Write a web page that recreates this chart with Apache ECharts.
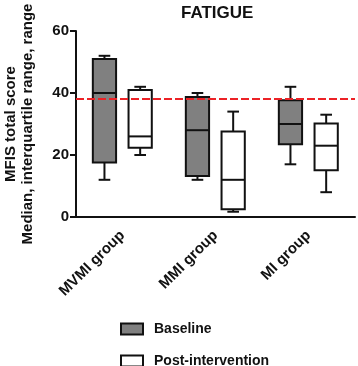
<!DOCTYPE html>
<html>
<head>
<meta charset="utf-8">
<script src="https://cdn.jsdelivr.net/npm/echarts@6/dist/echarts.min.js"></script>
<style>
  html, body { margin: 0; padding: 0; background: #fff; }
  #chart { width: 358px; height: 366px; }
</style>
</head>
<body>
<div id="chart"></div>
<script>
var groups = ['MVMI group', 'MMI group', 'MI group'];
// [min, Q1, median, Q3, max]
var baseline = [
    [12, 17.6, 40, 51, 52],
    [12, 13.2, 28, 38.7, 40],
    [17, 23.5, 30, 37.7, 42]
];
var postIntervention = [
    [20, 22.3, 26, 41, 42],
    [1.7, 2.5, 12, 27.6, 34],
    [8, 15.1, 23, 30.2, 33]
];
var cutOff = 38;
var yTicks = [0, 20, 40, 60];

var font = 'Liberation Sans, Arial, sans-serif';

function toRows(arr) {
    return arr.map(function (d, i) {
        return [i].concat(d);
    });
}

// box + whiskers, offset is a fraction of the band width
function boxRenderer(offset) {
    return function (params, api) {
        var c = api.value(0);
        var band = api.size([1, 0])[0];
        var half = band * 0.125;
        var cap = half * 0.5;
        var p = [1, 2, 3, 4, 5].map(function (i) {
            return api.coord([c, api.value(i)]);
        });
        var cx = p[0][0] + offset * band;
        var st = api.style();
        var line = { stroke: '#111', lineWidth: 2 };
        return {
            type: 'group',
            children: [
                { type: 'line', shape: { x1: cx, y1: p[0][1], x2: cx, y2: p[1][1] }, style: line },
                { type: 'line', shape: { x1: cx, y1: p[3][1], x2: cx, y2: p[4][1] }, style: line },
                { type: 'line', shape: { x1: cx - cap, y1: p[0][1], x2: cx + cap, y2: p[0][1] }, style: line },
                { type: 'line', shape: { x1: cx - cap, y1: p[4][1], x2: cx + cap, y2: p[4][1] }, style: line },
                {
                    type: 'rect',
                    shape: { x: cx - half, y: p[3][1], width: half * 2, height: p[1][1] - p[3][1] },
                    style: { fill: st.fill, stroke: '#111', lineWidth: 2 }
                },
                { type: 'line', shape: { x1: cx - half, y1: p[2][1], x2: cx + half, y2: p[2][1] }, style: line }
            ]
        };
    };
}

function legendAt(name, top) {
    return {
        data: [name],
        left: 120,
        top: top,
        padding: 0,
        icon: 'rect',
        itemWidth: 22,
        itemHeight: 11,
        textStyle: { fontFamily: font, fontSize: 14, fontWeight: 'bold', color: '#111', padding: [0, 0, 0, 6] }
    };
}

var chart = echarts.init(document.getElementById('chart'));

var option = {
    animation: false,
    title: {
        text: 'FATIGUE',
        left: 176,
        top: 0,
        textStyle: { fontFamily: font, fontSize: 17, fontWeight: 'bold', color: '#111' }
    },
    legend: [
        legendAt('Baseline', 322),
        legendAt('Post-intervention', 354)
    ],
    grid: { left: 76, right: 3, top: 31, bottom: 149, outerBoundsMode: 'none' },
    xAxis: {
        type: 'category',
        data: groups,
        axisLine: { lineStyle: { color: '#111', width: 2 } },
        axisTick: { alignWithLabel: true, length: 6, lineStyle: { color: '#111', width: 2 } },
        axisLabel: {
            rotate: 45,
            margin: 16,
            fontFamily: font,
            fontSize: 15,
            fontWeight: 'bold',
            color: '#111'
        }
    },
    yAxis: {
        type: 'value',
        min: 0,
        max: 60,
        interval: 20,
        name: 'MFIS total score\nMedian, interquartile range, range',
        nameLocation: 'middle',
        nameRotate: 90,
        nameGap: 40,
        nameTextStyle: { fontFamily: font, fontSize: 15, fontWeight: 'bold', color: '#111', lineHeight: 17 },
        splitLine: { show: false },
        axisLine: { show: true, lineStyle: { color: '#111', width: 2 } },
        axisTick: { show: true, length: 6, lineStyle: { color: '#111', width: 2 } },
        axisLabel: {
            margin: 7,
            fontFamily: font,
            fontSize: 15,
            fontWeight: 'bold',
            color: '#111',
            formatter: function (v) { return yTicks.indexOf(v) >= 0 ? String(v) : ''; }
        }
    },
    series: [
        {
            name: 'cutoff',
            type: 'line',
            data: [],
            z: 1,
            markLine: {
                silent: true,
                symbol: 'none',
                label: { show: false },
                lineStyle: { color: '#ec2226', type: [8, 3], width: 2 },
                data: [{ yAxis: cutOff }]
            }
        },
        {
            name: 'Baseline',
            type: 'custom',
            z: 3,
            renderItem: boxRenderer(-0.194),
            itemStyle: { color: '#808080', borderColor: '#111', borderWidth: 1.5 },
            encode: { x: 0, y: [1, 2, 3, 4, 5] },
            data: toRows(baseline)
        },
        {
            name: 'Post-intervention',
            type: 'custom',
            z: 3,
            renderItem: boxRenderer(0.19),
            itemStyle: { color: '#ffffff', borderColor: '#111', borderWidth: 1.5 },
            encode: { x: 0, y: [1, 2, 3, 4, 5] },
            data: toRows(postIntervention)
        }
    ]
};

chart.setOption(option);
</script>
</body>
</html>
